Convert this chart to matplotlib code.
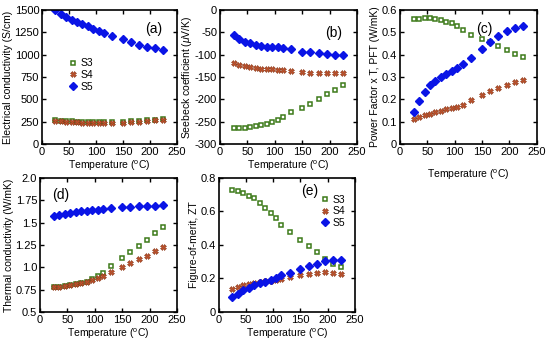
import numpy as np
import matplotlib
matplotlib.use("Agg")
from matplotlib import pyplot as plt

plt.rcParams['font.family'] = ['Liberation Sans', 'DejaVu Sans']
plt.rcParams['mathtext.fontset'] = 'custom'
plt.rcParams['mathtext.rm'] = 'Liberation Sans'
plt.rcParams['mathtext.it'] = 'Liberation Sans:italic'

# temperatures (C)
T = [25, 35, 45, 55, 65, 75, 85, 95, 105, 115, 130, 150, 165, 180, 195, 210, 225]

# (a) electrical conductivity (S/cm)
sig_s3 = [265, 262, 258, 255, 252, 250, 248, 246, 245, 245, 245, 250, 255, 262, 268, 273, 280]
sig_s4 = [258, 255, 250, 247, 244, 241, 238, 236, 235, 235, 236, 240, 246, 252, 258, 265, 272]
sig_s5 = [1500, 1450, 1420, 1390, 1365, 1340, 1315, 1290, 1270, 1245, 1210, 1170, 1140, 1110, 1085, 1070, 1050]

# (b) Seebeck coefficient (uV/K)
see_s3 = [-263, -263, -263, -262, -260, -258, -255, -251, -246, -240, -229, -219, -210, -199, -188, -178, -168]
see_s4 = [-119, -123, -126, -128, -130, -131, -132, -133, -134, -135, -137, -139, -141, -142, -142, -141, -140]
see_s5 = [-57, -65, -71, -75, -78, -80, -82, -83, -84, -85, -88, -93, -95, -97, -99, -100, -100]

# (c) power factor x T (W/mK)
pft_s3 = [0.558, 0.561, 0.562, 0.562, 0.560, 0.556, 0.548, 0.540, 0.528, 0.510, 0.490, 0.472, 0.458, 0.440, 0.421, 0.404, 0.391]
pft_s4 = [0.110, 0.120, 0.128, 0.135, 0.142, 0.148, 0.155, 0.162, 0.168, 0.175, 0.198, 0.218, 0.237, 0.252, 0.265, 0.277, 0.287]
pft_s5 = [0.142, 0.192, 0.232, 0.262, 0.283, 0.300, 0.315, 0.327, 0.342, 0.357, 0.385, 0.425, 0.455, 0.482, 0.505, 0.520, 0.530]

# (d) thermal conductivity (W/mK)
kap_s3 = [0.78, 0.785, 0.79, 0.80, 0.81, 0.82, 0.84, 0.87, 0.90, 0.94, 1.02, 1.10, 1.17, 1.24, 1.31, 1.38, 1.45]
kap_s4 = [0.78, 0.785, 0.79, 0.80, 0.81, 0.82, 0.84, 0.86, 0.88, 0.90, 0.95, 1.00, 1.05, 1.09, 1.13, 1.18, 1.23]
kap_s5 = [1.57, 1.59, 1.60, 1.61, 1.62, 1.63, 1.635, 1.64, 1.645, 1.65, 1.66, 1.67, 1.675, 1.68, 1.685, 1.69, 1.70]

# (e) figure of merit ZT
zt_s3 = [0.727, 0.72, 0.707, 0.693, 0.677, 0.653, 0.623, 0.592, 0.558, 0.520, 0.478, 0.428, 0.392, 0.355, 0.319, 0.287, 0.271]
zt_s4 = [0.139, 0.150, 0.160, 0.168, 0.174, 0.179, 0.183, 0.186, 0.193, 0.199, 0.209, 0.219, 0.227, 0.235, 0.236, 0.235, 0.229]
zt_s5 = [0.090, 0.110, 0.130, 0.145, 0.160, 0.170, 0.180, 0.192, 0.205, 0.219, 0.233, 0.255, 0.275, 0.289, 0.305, 0.311, 0.311]

labels = ['S3', 'S4', 'S5']
xlab = 'Temperature ($^{\\rm o}$C)'

fig = plt.figure(figsize=(5.5, 3.43), dpi=100)
axa = fig.add_axes([0.0764, 0.580, 0.245, 0.391])
axb = fig.add_axes([0.400, 0.580, 0.249, 0.391])
axc = fig.add_axes([0.727, 0.580, 0.249, 0.391])
axd = fig.add_axes([0.0727, 0.0904, 0.249, 0.391])
axe = fig.add_axes([0.398, 0.0904, 0.247, 0.391])


def plot_sets(ax, s3, s4, s5):
    ax.plot(T, s3, 's', ms=3.3, mfc='none', mec='#3d7a1a', mew=1.1, label=labels[0])
    ax.plot(T, s4, 'X', ms=4.2, mfc='#c0502a', mec='#8a3a1a', mew=0.4, label=labels[1])
    ax.plot(T, s5, 'D', ms=3.6, color='#0a14e6', label=labels[2])


def style(ax, ylim, yticks, ytl, ylabel, tag, tagpos):
    ax.set_xlim(0, 250)
    ax.set_xticks([0, 50, 100, 150, 200, 250])
    ax.set_ylim(*ylim)
    ax.set_yticks(yticks)
    ax.set_yticklabels(ytl)
    ax.tick_params(direction='in', top=True, right=True, labelsize=8, length=3, width=1, pad=2)
    for s in ax.spines.values():
        s.set_linewidth(1.2)
    ax.set_xlabel(xlab, fontsize=7.5, labelpad=1)
    ax.set_ylabel(ylabel, fontsize=7.5, labelpad=1)
    ax.text(tagpos[0], tagpos[1], tag, transform=ax.transAxes, fontsize=10, ha='center', va='center')


plot_sets(axa, sig_s3, sig_s4, sig_s5)
style(axa, (0, 1500), [0, 250, 500, 750, 1000, 1250, 1500],
      ['0', '250', '500', '750', '1000', '1250', '1500'],
      'Electrical conductivity (S/cm)', '(a)', (0.83, 0.86))
axa.legend(loc='center left', bbox_to_anchor=(0.15, 0.515), frameon=False, fontsize=7.5,
           handletextpad=0.3, labelspacing=0.15, handlelength=1, borderpad=0)

plot_sets(axb, see_s3, see_s4, see_s5)
style(axb, (-300, 0), [-300, -250, -200, -150, -100, -50, 0],
      ['-300', '-250', '-200', '-150', '-100', '-50', '0'],
      'Seebeck coefficient ($\\mu$V/K)', '(b)', (0.83, 0.83))

plot_sets(axc, pft_s3, pft_s4, pft_s5)
style(axc, (0, 0.6), [0, 0.1, 0.2, 0.3, 0.4, 0.5, 0.6],
      ['0', '0.1', '0.2', '0.3', '0.4', '0.5', '0.6'],
      'Power Factor x T, PFT (W/mK)', '(c)', (0.62, 0.86))
axc.xaxis.labelpad = 8

plot_sets(axd, kap_s3, kap_s4, kap_s5)
style(axd, (0.5, 2.0), [0.5, 0.75, 1.0, 1.25, 1.5, 1.75, 2.0],
      ['0.5', '0.75', '1.0', '1.25', '1.5', '1.75', '2.0'],
      'Thermal conductivity (W/mK)', '(d)', (0.15, 0.87))

plot_sets(axe, zt_s3, zt_s4, zt_s5)
style(axe, (0, 0.8), [0, 0.2, 0.4, 0.6, 0.8],
      ['0', '0.2', '0.4', '0.6', '0.8'],
      'Figure-of-merit, ZT', '(e)', (0.67, 0.9))
axe.legend(loc='center right', bbox_to_anchor=(0.97, 0.75), frameon=False, fontsize=7.5,
           handletextpad=0.3, labelspacing=0.15, handlelength=1, borderpad=0)

fig.savefig('out.png', dpi=100)
